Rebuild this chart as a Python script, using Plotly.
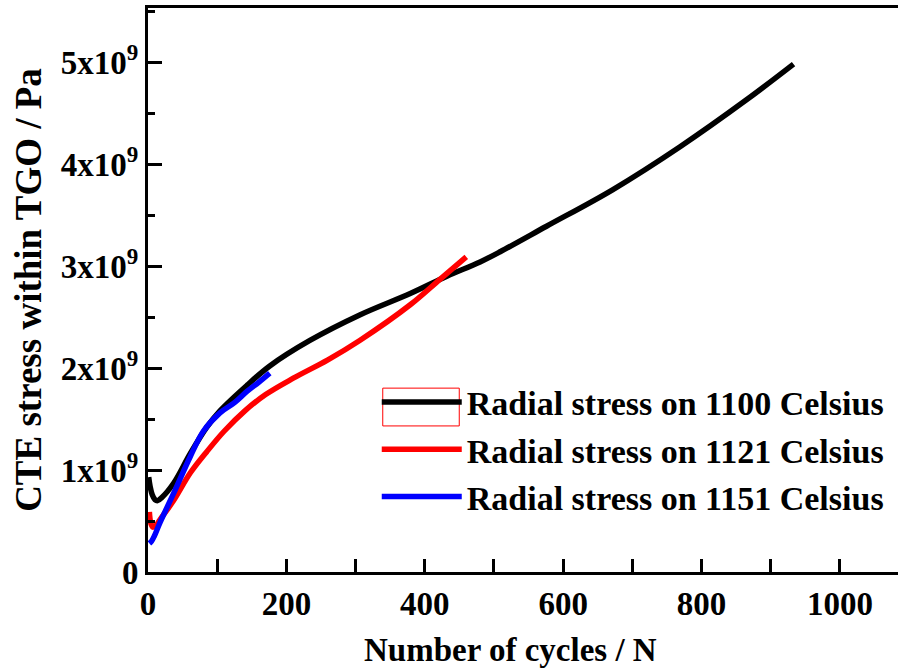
import plotly.graph_objects as go

# Data (stress in units of 1e9 Pa)
n_1100 = [1, 3, 6, 10, 14, 20, 37, 61, 85, 104, 143, 176, 234, 306, 379, 432, 480, 509, 576, 672, 769, 865, 933]
s_1100 = [0.93, 0.84, 0.76, 0.71, 0.70, 0.73, 0.87, 1.16, 1.42, 1.58, 1.83, 2.02, 2.27, 2.52, 2.73, 2.90, 3.04, 3.14, 3.39, 3.75, 4.17, 4.63, 4.98]

n_1121 = [2, 4, 7, 12, 17, 37, 61, 85, 110, 140, 170, 210, 260, 306, 379, 422, 460]
s_1121 = [0.59, 0.48, 0.44, 0.46, 0.51, 0.70, 0.97, 1.18, 1.38, 1.58, 1.74, 1.90, 2.08, 2.27, 2.62, 2.87, 3.09]

n_1151 = [2, 5, 9, 17, 37, 61, 80, 104, 125, 143, 160, 176]
s_1151 = [0.28, 0.30, 0.35, 0.48, 0.77, 1.13, 1.38, 1.56, 1.66, 1.77, 1.86, 1.95]

series_names = ["Radial stress on 1100 Celsius", "Radial stress on 1121 Celsius", "Radial stress on 1151 Celsius"]
series_colors = ["#000000", "#ff0000", "#0000ff"]

y_tick_vals = [0, 1e9, 2e9, 3e9, 4e9, 5e9]
y_tick_text = ["0", "1x10<sup>9</sup>", "2x10<sup>9</sup>", "3x10<sup>9</sup>", "4x10<sup>9</sup>", "5x10<sup>9</sup>"]
x_tick_vals = [0, 200, 400, 600, 800, 1000]
x_title = "Number of cycles / N"
y_title = "CTE stress within TGO / Pa"

FONT = "Liberation Serif"

fig = go.Figure()
for xs, ys, name, col in zip([n_1100, n_1121, n_1151], [s_1100, s_1121, s_1151], series_names, series_colors):
    fig.add_trace(go.Scatter(
        x=xs, y=[v * 1e9 for v in ys], mode="lines", name=name,
        line=dict(color=col, width=5.5, shape="spline", smoothing=1.0),
    ))

fig.update_layout(
    width=898, height=670,
    margin=dict(l=148, r=0, t=8, b=98),
    plot_bgcolor="white", paper_bgcolor="white",
    font=dict(family=FONT, color="black"),
    showlegend=True,
    legend=dict(
        x=0.305, y=0.352, xanchor="left", yanchor="top",
        bgcolor="rgba(0,0,0,0)",
        font=dict(family=FONT, size=34, color="black", weight="bold"),
        tracegroupgap=0, itemwidth=80,
    ),
)

fig.update_xaxes(
    range=[0, 1084], showgrid=False, zeroline=False,
    showline=True, linecolor="black", linewidth=3, mirror=True,
    ticks="inside", ticklen=13, tickwidth=2.5, tickcolor="black",
    tickvals=x_tick_vals,
    minor=dict(dtick=100, tick0=0, ticks="inside", ticklen=13, tickwidth=2.5, tickcolor="black", showgrid=False),
    tickfont=dict(family=FONT, size=33, color="black", weight="bold"),
)
fig.update_yaxes(
    range=[0, 5.53e9], showgrid=False, zeroline=False,
    showline=True, linecolor="black", linewidth=3,
    ticks="inside", ticklen=14, tickwidth=2.5, tickcolor="black",
    tickvals=y_tick_vals, ticktext=y_tick_text,
    minor=dict(dtick=0.5e9, tick0=0, ticks="inside", ticklen=7, tickwidth=2.5, tickcolor="black", showgrid=False),
    tickfont=dict(family=FONT, size=33, color="black", weight="bold"),
    title=dict(text=y_title, font=dict(family=FONT, size=37, color="black", weight="bold"), standoff=8),
)

# x-axis title, centred where the reference places it
fig.add_annotation(text=x_title, xref="paper", yref="paper", x=0.483, y=-0.138,
                   xanchor="center", yanchor="middle", showarrow=False,
                   font=dict(family=FONT, size=33, color="black", weight="bold"))

# red selection box around the first legend sample (as in the reference)
fig.add_shape(type="rect", xref="paper", yref="paper",
              x0=0.313, x1=0.415, y0=0.259, y1=0.326,
              line=dict(color="red", width=1), fillcolor="rgba(0,0,0,0)")

fig.write_html("out.html")
